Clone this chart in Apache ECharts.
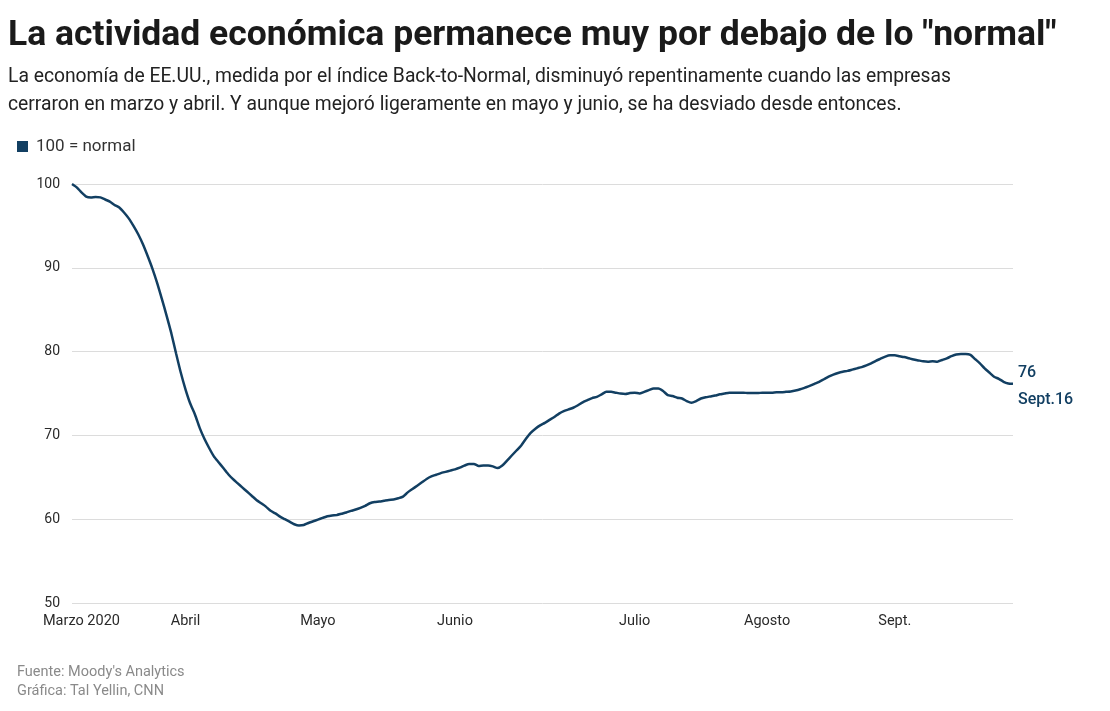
<!DOCTYPE html>
<html>
<head>
<meta charset="utf-8">
<script src="https://cdn.jsdelivr.net/npm/echarts@6/dist/echarts.min.js"></script>
<style>
  html, body { margin: 0; padding: 0; background: #fff; }
  #chart { width: 1110px; height: 711px; }
</style>
</head>
<body>
<div id="chart"></div>
<script>
// ---- Data ----
const startDate = '2020-03-01';
// Back-to-Normal index, daily values Mar 1 – Sept 16, 2020
const indexValues = [
  100.0, 99.6, 99.0, 98.5, 98.4, 98.45, 98.4, 98.15, 97.9, 97.5,
  97.2, 96.6, 95.9, 95.0, 94.0, 92.8, 91.4, 89.9, 88.2, 86.3,
  84.3, 82.2, 79.8, 77.5, 75.5, 73.8, 72.5, 70.9, 69.6, 68.5,
  67.5, 66.8, 66.1, 65.4, 64.8, 64.3, 63.8, 63.3, 62.8, 62.3,
  61.9, 61.5, 61.0, 60.7, 60.3, 60.0, 59.7, 59.4, 59.25, 59.3,
  59.55, 59.75, 59.95, 60.15, 60.35, 60.45, 60.5, 60.65, 60.8, 61.0,
  61.15, 61.35, 61.6, 61.9, 62.05, 62.1, 62.2, 62.3, 62.35, 62.5,
  62.7, 63.2, 63.6, 64.0, 64.4, 64.8, 65.1, 65.3, 65.5, 65.65,
  65.8, 65.95, 66.15, 66.4, 66.6, 66.6, 66.35, 66.4, 66.4, 66.3,
  66.1, 66.4, 67.0, 67.6, 68.2, 68.8, 69.6, 70.3, 70.8, 71.2,
  71.5, 71.85, 72.2, 72.6, 72.9, 73.1, 73.3, 73.6, 73.95, 74.2,
  74.45, 74.6, 74.9, 75.2, 75.2, 75.1, 75.0, 74.95, 75.05, 75.1,
  75.0, 75.2, 75.4, 75.6, 75.6, 75.3, 74.8, 74.7, 74.5, 74.4,
  74.1, 73.9, 74.1, 74.4, 74.55, 74.65, 74.75, 74.9, 75.0, 75.1,
  75.1, 75.1, 75.1, 75.05, 75.05, 75.05, 75.1, 75.1, 75.1, 75.15,
  75.15, 75.2, 75.25, 75.35, 75.5, 75.7, 75.9, 76.15, 76.4, 76.7,
  77.0, 77.25, 77.45, 77.6, 77.7, 77.85, 78.0, 78.15, 78.35, 78.6,
  78.9, 79.15, 79.4, 79.55, 79.55, 79.45, 79.35, 79.2, 79.05, 78.95,
  78.85, 78.8, 78.85, 78.8, 79.0, 79.2, 79.45, 79.65, 79.7, 79.7,
  79.6, 79.1, 78.6, 78.0, 77.5, 77.0, 76.75, 76.4, 76.2, 76.15
];
// Dates at which the month labels are drawn, and their texts
const monthLabelDates = ['2020-03-03', '2020-03-25', '2020-04-22', '2020-05-21', '2020-06-28', '2020-07-26', '2020-08-22'];
const monthLabels = ['Marzo 2020', 'Abril', 'Mayo', 'Junio', 'Julio', 'Agosto', 'Sept.'];
const yTicks = [50, 60, 70, 80, 90, 100];
const endValueLabel = '76';
const endDateLabel = 'Sept.16';

const titleText = 'La actividad económica permanece muy por debajo de lo "normal"';
const subtitleText = 'La economía de EE.UU., medida por el índice Back-to-Normal, disminuyó repentinamente cuando las empresas\ncerraron en marzo y abril. Y aunque mejoró ligeramente en mayo y junio, se ha desviado desde entonces.';
const legendText = '100 = normal';
const sourceText = "Fuente: Moody's Analytics\nGráfica: Tal Yellin, CNN";

// ---- Build categories (one per day) ----
function pad(n) { return n < 10 ? '0' + n : '' + n; }
const dates = [];
(function () {
  const p = startDate.split('-').map(Number);
  for (let i = 0; i < indexValues.length; i++) {
    const d = new Date(Date.UTC(p[0], p[1] - 1, p[2] + i));
    dates.push(d.getUTCFullYear() + '-' + pad(d.getUTCMonth() + 1) + '-' + pad(d.getUTCDate()));
  }
})();

const FONT = 'Roboto, "Noto Sans", sans-serif';
const LINE_COLOR = '#123f62';

const chart = echarts.init(document.getElementById('chart'), null, { renderer: 'canvas' });
chart.setOption({
  backgroundColor: '#ffffff',
  animation: false,
  textStyle: { fontFamily: FONT },
  title: [
    {
      text: titleText,
      left: 3, top: 13,
      textStyle: { fontFamily: FONT, fontSize: 35.5, fontWeight: 'bold', color: '#1a1a1a' }
    },
    {
      text: subtitleText,
      left: 3, top: 58,
      textStyle: { fontFamily: FONT, fontSize: 19.3, fontWeight: 'normal', color: '#222', lineHeight: 28 }
    },
    {
      text: sourceText,
      left: 12, top: 658,
      textStyle: { fontFamily: FONT, fontSize: 14.5, fontWeight: 'normal', color: '#8a8a8a', lineHeight: 19 }
    }
  ],
  legend: {
    left: 12, top: 133,
    itemWidth: 11, itemHeight: 11,
    icon: 'rect',
    textStyle: { fontFamily: FONT, fontSize: 17, color: '#333', padding: [0, 0, 0, 3] },
    data: [{ name: legendText, itemStyle: { color: LINE_COLOR } }]
  },
  grid: { left: 72, right: 97, top: 184, bottom: 108, containLabel: false },
  xAxis: {
    type: 'category',
    data: dates,
    boundaryGap: false,
    axisLine: { show: false },
    axisTick: { show: false },
    splitLine: { show: false },
    axisLabel: {
      interval: function (idx, val) { return monthLabelDates.indexOf(val) >= 0; },
      formatter: function (val) { const k = monthLabelDates.indexOf(val); return k >= 0 ? monthLabels[k] : ''; },
      margin: 11,
      fontFamily: FONT, fontSize: 14.5, color: '#2a2a2a'
    }
  },
  yAxis: {
    type: 'value',
    min: yTicks[0], max: yTicks[yTicks.length - 1], interval: 10,
    axisLine: { show: false },
    axisTick: { show: false },
    splitLine: { show: true, lineStyle: { color: '#dcdcdc', width: 1 } },
    axisLabel: { margin: 12, fontFamily: FONT, fontSize: 14, color: '#2a2a2a' }
  },
  series: [{
    name: legendText,
    type: 'line',
    data: indexValues,
    showSymbol: false,
    smooth: 0.2,
    lineStyle: { color: LINE_COLOR, width: 2.5 },
    itemStyle: { color: LINE_COLOR },
    endLabel: {
      show: true,
      formatter: function () { return endValueLabel + '\n' + endDateLabel; },
      color: LINE_COLOR,
      fontFamily: FONT, fontSize: 16, fontWeight: 500,
      lineHeight: 27,
      align: 'left',
      distance: 5,
      offset: [0, 3]
    }
  }]
});
</script>
</body>
</html>
